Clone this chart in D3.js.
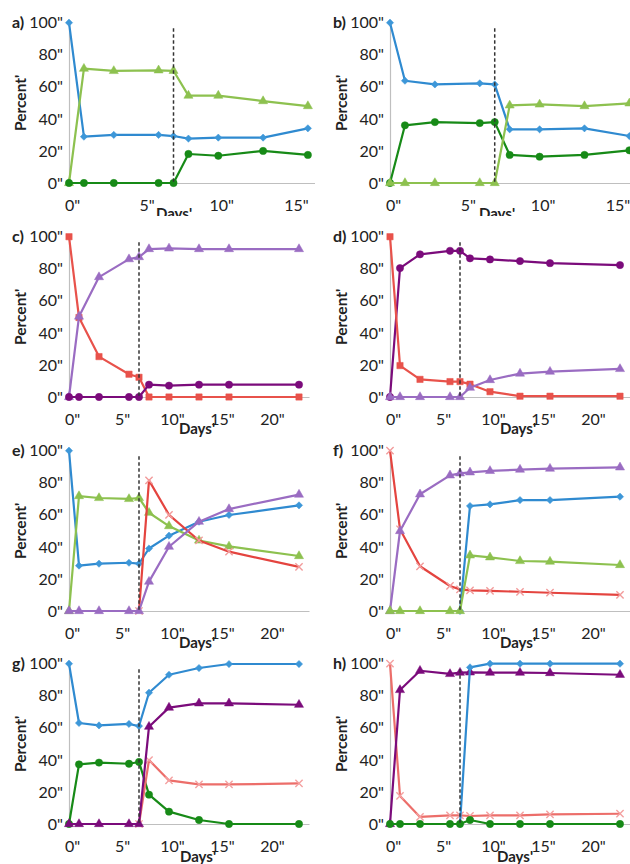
<!DOCTYPE html>
<html>
<head>
<meta charset="utf-8">
<script src="https://cdn.jsdelivr.net/npm/d3@7"></script>
<style>
  body { margin: 0; background: #fff; }
  text { font-family: Lato, "Open Sans", sans-serif; fill: #222; }
</style>
</head>
<body>
<div id="chart"></div>
<script>
const width = 630
const height = 864

// days sampled
const daysShort = [0, 1, 3, 6, 7, 8, 10, 13, 16]
const daysLong = [0, 1, 3, 6, 7, 8, 10, 13, 16, 23]
const xTicks = [0, 5, 10, 15, 20]
const yTicks = [0, 20, 40, 60, 80, 100]
const switchDay = 7

// a)
const aBlue = [100, 28.9, 30, 30, 29.3, 27.7, 28.3, 28.3, 34.1]
const aLightGreen = [0, 71.3, 69.9, 70.3, 70, 54.5, 54.5, 51.1, 48]
const aDarkGreen = [0, 0, 0, 0, 0, 18.1, 17, 20, 17.5]
// b)
const bBlue = [100, 63.8, 61.5, 62.2, 61.5, 33.5, 33.5, 34.1, 29.3]
const bDarkGreen = [0, 36, 38, 37.4, 38, 17.5, 16.4, 17.5, 20.4]
const bLightGreen = [0, 0, 0, 0, 0, 48.4, 49, 48, 49.7]
// c)
const cRed = [100, 49.6, 25.2, 14.2, 12.3, 0, 0, 0, 0, 0]
const cLightPurple = [0, 50.2, 74.8, 86, 87.3, 92.3, 92.7, 92.3, 92.3, 92.3]
const cDarkPurple = [0, 0, 0, 0, 0, 7.7, 7.1, 7.7, 7.7, 7.7]
// d)
const dDarkPurple = [0, 80.4, 89, 91.2, 91.2, 86.5, 85.8, 84.8, 83.5, 82.3]
const dRed = [100, 19.6, 11, 9.6, 9.6, 8, 3.3, 0.5, 0.5, 0.5]
const dLightPurple = [0, 0, 0, 0, 0, 5.8, 10.6, 14.6, 15.8, 17.5]
// e)
const eBlue = [100, 28.3, 29.5, 30.1, 29.5, 39, 47, 55.7, 59.9, 65.9]
const eLightGreen = [0, 71.7, 70.5, 69.9, 70.5, 61.3, 53, 44, 40.3, 34.3]
const eLightPurple = [0, 0, 0, 0, 0, 18.3, 40.1, 55.7, 63.6, 72.6]
const eRed = [null, null, null, null, 0, 81.5, 60, 44, 37, 27.5]
// f)
const fRed = [100, 51, 27.9, 15.6, 13.5, 12.9, 12.5, 12, 11.4, 10]
const fLightPurple = [0, 49.9, 72.8, 84.6, 85.9, 86.5, 87.4, 88.2, 88.8, 89.6]
const fBlue = [null, null, null, null, 0, 65.5, 66.5, 69.2, 69.2, 71.3]
const fLightGreen = [0, 0, 0, 0, 0, 34.7, 33.5, 31.2, 30.8, 28.7]
// g)
const gBlue = [100, 63, 61.5, 62.4, 61.1, 81.9, 93.1, 97.3, 99.8, 99.8]
const gDarkGreen = [0, 37.2, 38.3, 37.6, 38.7, 18.3, 7.7, 2.5, 0, 0]
const gDarkPurple = [0, 0, 0, 0, 0, 60.7, 72.6, 75.3, 75.3, 74.4]
const gRed = [null, null, null, null, 0, 39.9, 27.2, 24.7, 24.7, 25.3]
// h)
const hRed = [100, 17.5, 4.4, 5.4, 5.4, 5, 5.4, 5.4, 6, 6.4]
const hDarkPurple = [0, 83.6, 95.6, 93.6, 94.4, 94.6, 94.4, 94.4, 94.2, 93.1]
const hBlue = [null, null, null, null, 0, 97.7, 100, 100, 100, 100]
const hDarkGreen = [0, 0, 0, 0, 0, 2.5, 0, 0, 0, 0]

// series styles
const styles = {
    blue: {line: "#2f8ad0", fill: "#3d97d8", stroke: "#3d97d8", shape: "diamond"},
    lightGreen: {line: "#8dc14f", fill: "#8dc14f", stroke: "#8dc14f", shape: "triangle"},
    darkGreen: {line: "#178a17", fill: "#178a17", stroke: "#178a17", shape: "circle"},
    redSquare: {line: "#e8524b", fill: "#e8524b", stroke: "#e8524b", shape: "square"},
    redX: {line: "#e4443f", fill: "none", stroke: "#f29b9b", shape: "x"},
    redXLight: {line: "#ec6e6a", fill: "none", stroke: "#f4a0a0", shape: "x"},
    lightPurple: {line: "#9a6cc2", fill: "#9a6cc2", stroke: "#9a6cc2", shape: "triangle"},
    darkPurple: {line: "#7b0b7b", fill: "#7b0b7b", stroke: "#7b0b7b", shape: "circle"},
    darkPurpleTri: {line: "#7b0b7b", fill: "#7b0b7b", stroke: "#7b0b7b", shape: "triangle"}
}

const panels = [
    {label: "a)", x0: 69, y0: 183, days: daysShort, xMax: 16.6, k: 14.93, titleX: 105, titleY: 219, bgTop: 0,
     series: [["blue", aBlue], ["lightGreen", aLightGreen], ["darkGreen", aDarkGreen]]},
    {label: "b)", x0: 390, y0: 183, days: daysShort, xMax: 16.6, k: 14.96, titleX: 107, titleY: 219, bgTop: 0,
     series: [["blue", bBlue], ["darkGreen", bDarkGreen], ["lightGreen", bLightGreen]]},
    {label: "c)", x0: 69, y0: 397, days: daysLong, xMax: 24, k: 10, titleX: 128, titleY: 434, bgTop: 216,
     series: [["redSquare", cRed], ["lightPurple", cLightPurple], ["darkPurple", cDarkPurple]]},
    {label: "d)", x0: 390, y0: 397, days: daysLong, xMax: 24, k: 10, titleX: 128, titleY: 434, bgTop: 216,
     series: [["darkPurple", dDarkPurple], ["redSquare", dRed], ["lightPurple", dLightPurple]]},
    {label: "e)", x0: 69, y0: 611, days: daysLong, xMax: 24, k: 10, titleX: 128, titleY: 648, bgTop: 438,
     series: [["blue", eBlue], ["lightGreen", eLightGreen], ["redX", eRed], ["lightPurple", eLightPurple]]},
    {label: "f)", x0: 390, y0: 611, days: daysLong, xMax: 24, k: 10, titleX: 128, titleY: 648, bgTop: 438,
     series: [["redX", fRed], ["lightPurple", fLightPurple], ["blue", fBlue], ["lightGreen", fLightGreen]]},
    {label: "g)", x0: 69, y0: 824, days: daysLong, xMax: 24, k: 10, titleX: 129, titleY: 862, bgTop: 652,
     series: [["blue", gBlue], ["darkGreen", gDarkGreen], ["redXLight", gRed], ["darkPurpleTri", gDarkPurple]]},
    {label: "h)", x0: 390, y0: 824, days: daysLong, xMax: 24, k: 10, titleX: 125, titleY: 862, bgTop: 652,
     series: [["redXLight", hRed], ["darkPurpleTri", hDarkPurple], ["blue", hBlue], ["darkGreen", hDarkGreen]]}
]

const plotH = 160.3

const svg = d3.select("div#chart").append("svg").attr("width", width).attr("height", height)

const symbols = {
    diamond: d3.symbol(d3.symbolSquare, 26),
    triangle: d3.symbol(d3.symbolTriangle, 36),
    circle: d3.symbol(d3.symbolCircle, 42),
    square: d3.symbol(d3.symbolSquare, 40),
    x: d3.symbol(d3.symbolX, 36)
}

panels.forEach((p, i) => {
    const g = svg.append("g").attr("class", "panel")
    const left = i % 2 === 0 ? 0 : 315

    // white background, covers the title of the panel above
    g.append("rect").attr("x", left).attr("y", p.bgTop).attr("width", 315).attr("height", p.y0 + 30 - p.bgTop)
        .attr("fill", "#fff")

    const x = d3.scaleLinear().domain([0, p.xMax]).range([p.x0, p.x0 + p.xMax * p.k])
    const y = d3.scaleLinear().domain([0, 100]).range([p.y0, p.y0 - plotH])

    // axes
    const xAxis = d3.axisBottom(x).tickValues(xTicks.filter(t => t <= p.xMax)).tickSize(0).tickFormat(d => d + '"')
    const yAxis = d3.axisLeft(y).tickValues(yTicks).tickSize(0).tickFormat(d => d + '"')

    const xg = g.append("g").attr("transform", `translate(0, ${p.y0})`).call(xAxis)
    xg.select(".domain").attr("stroke", "#bfbfbf").attr("stroke-width", 1.2)
    xg.selectAll("text").attr("font-size", 16).attr("dy", 0).attr("y", 28).attr("dx", 3)
        .style("font-family", "Lato, sans-serif").attr("fill", "#222")

    const yg = g.append("g").attr("transform", `translate(${p.x0}, 0)`).call(yAxis)
    yg.select(".domain").attr("stroke", "#bfbfbf").attr("stroke-width", 1.2)
    yg.selectAll("text").attr("font-size", 16).attr("x", -6)
        .style("font-family", "Lato, sans-serif").attr("fill", "#222")

    // axis titles and panel label
    g.append("text").attr("transform", `translate(${p.x0 - 43}, ${p.y0 - plotH / 2}) rotate(-90)`)
        .attr("text-anchor", "middle").attr("font-size", 15.5).attr("font-weight", "bold").text("Percent'")
    g.append("text").attr("x", p.x0 + p.titleX).attr("y", p.titleY)
        .attr("text-anchor", "middle").attr("font-size", 15).attr("font-weight", "bold").text("Days'")
    g.append("text").attr("x", p.x0 - 57).attr("y", p.y0 - plotH + 5)
        .attr("font-size", 16).attr("font-weight", "bold").text(p.label)

    // series
    p.series.forEach(([key, values]) => {
        const st = styles[key]
        const data = p.days.map((d, j) => ({day: d, v: values[j]})).filter(d => d.v !== null)
        const line = d3.line().x(d => x(d.day)).y(d => y(d.v))
        g.append("path").datum(data).attr("d", line)
            .attr("fill", "none").attr("stroke", st.line).attr("stroke-width", 2.2).attr("stroke-linejoin", "round")
        g.selectAll(null).data(data).enter().append("path")
            .attr("d", symbols[st.shape])
            .attr("transform", d => `translate(${x(d.day)}, ${y(d.v)})` + (st.shape === "diamond" ? " rotate(45)" : ""))
            .attr("fill", st.fill)
            .attr("stroke", st.stroke)
            .attr("stroke-width", st.shape === "x" ? 1.4 : 0.5)
    })

    // switch day marker
    g.append("line").attr("x1", x(switchDay)).attr("x2", x(switchDay))
        .attr("y1", y(96.5)).attr("y2", y(0))
        .attr("stroke", "#333").attr("stroke-width", 1.5).attr("stroke-dasharray", "3.5,2.5")
})
</script>
</body>
</html>
